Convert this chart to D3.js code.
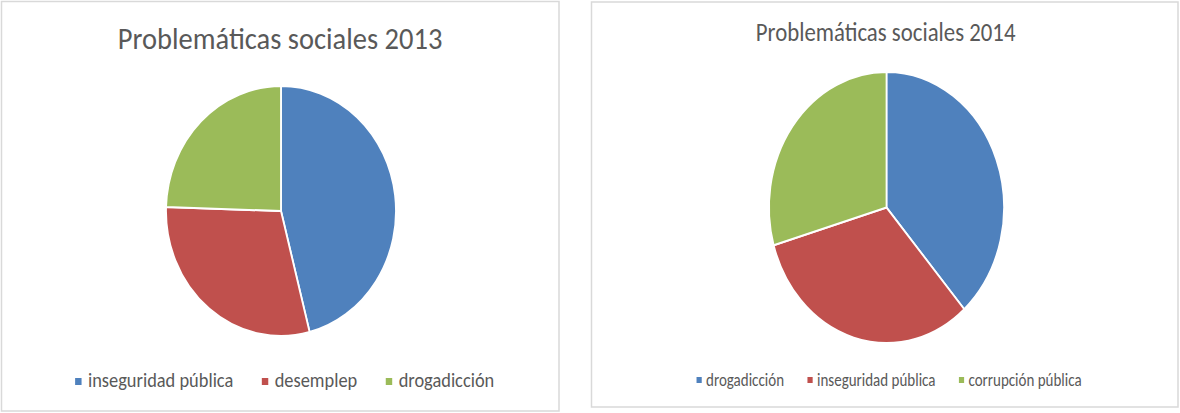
<!DOCTYPE html>
<html>
<head>
<meta charset="utf-8">
<script src="https://cdn.jsdelivr.net/npm/d3@7"></script>
<style>
  body { margin: 0; background: #fff; }
  text { font-family: Carlito, Lato, "Open Sans", sans-serif; fill: #595959; }
</style>
</head>
<body>
<svg id="chart" width="1180" height="413"></svg>
<script>
// Colours used by both pies (same order as the categories)
const sliceColors = ["#4F81BD", "#C0504D", "#9BBB59"];

// 2013
const categories2013 = ["inseguridad pública", "desemplep", "drogadicción"];
const values2013 = [46, 29.5, 24.5];

// 2014
const categories2014 = ["drogadicción", "inseguridad pública", "corrupción pública"];
const values2014 = [38.5, 32, 29.5];

const svg = d3.select("#chart");

/* Draw one pie panel.
    The original picture was squeezed sideways, so every panel is drawn
    round and then scaled on x with sx.
*/
function drawPie(opts) {
  // panel frame
  svg.append("rect")
      .attr("x", opts.frame[0])
      .attr("y", opts.frame[1])
      .attr("width", opts.frame[2])
      .attr("height", opts.frame[3])
      .attr("fill", "#fff")
      .attr("stroke", "#d9d9d9")
      .attr("stroke-width", 1.5);

  const g = svg.append("g")
      .attr("transform", `translate(${opts.cx},0) scale(${opts.sx},1)`);

  g.append("text")
      .attr("x", opts.titleShift)
      .attr("y", opts.titleY)
      .attr("text-anchor", "middle")
      .style("font-size", opts.titleSize + "px")
      .text(opts.title);

  const pie = d3.pie().sort(null).value(d => d.value);
  const arc = d3.arc().innerRadius(0).outerRadius(opts.r);
  const color = d3.scaleOrdinal().domain(opts.categories).range(sliceColors);

  const data = opts.categories.map((c, i) => ({ name: c, value: opts.values[i] }));

  g.append("g")
      .attr("transform", `translate(0,${opts.cy})`)
    .selectAll("path")
    .data(pie(data))
    .join("path")
      .attr("d", arc)
      .attr("fill", d => color(d.data.name))
      .attr("stroke", "#fff")
      .attr("stroke-width", 2)
      .attr("stroke-linejoin", "round");

  // Legend: lay items out left to right, then centre the row
  const legend = g.append("g");
  let x = 0;
  opts.categories.forEach((c, i) => {
    legend.append("rect")
        .attr("x", x)
        .attr("y", opts.legendY - 9)
        .attr("width", opts.swatch)
        .attr("height", opts.swatch)
        .attr("fill", color(c));
    const t = legend.append("text")
        .attr("x", x + opts.swatch + opts.swatchGap)
        .attr("y", opts.legendY)
        .style("font-size", opts.legendSize + "px")
        .text(c);
    x += opts.swatch + opts.swatchGap + t.node().getComputedTextLength();
    if (i < opts.categories.length - 1) x += opts.itemGap;
  });
  legend.attr("transform", `translate(${-x / 2 + opts.legendShift},0)`);
}

drawPie({
  title: "Problemáticas sociales 2013",
  categories: categories2013,
  values: values2013,
  frame: [1.5, 1.5, 557.5, 409.5],
  cx: 281, cy: 211, r: 125, sx: 0.92,
  titleY: 49, titleSize: 31, titleShift: -1,
  legendY: 387, legendSize: 20, legendShift: 4,
  swatch: 7, swatchGap: 7, itemGap: 31
});

drawPie({
  title: "Problemáticas sociales 2014",
  categories: categories2014,
  values: values2014,
  frame: [591.5, 2, 586.5, 405],
  cx: 886.5, cy: 207.5, r: 135.5, sx: 0.867,
  titleY: 41, titleSize: 26.3, titleShift: -1,
  legendY: 386, legendSize: 17.3, legendShift: 3,
  swatch: 6, swatchGap: 5, itemGap: 27
});
</script>
</body>
</html>
